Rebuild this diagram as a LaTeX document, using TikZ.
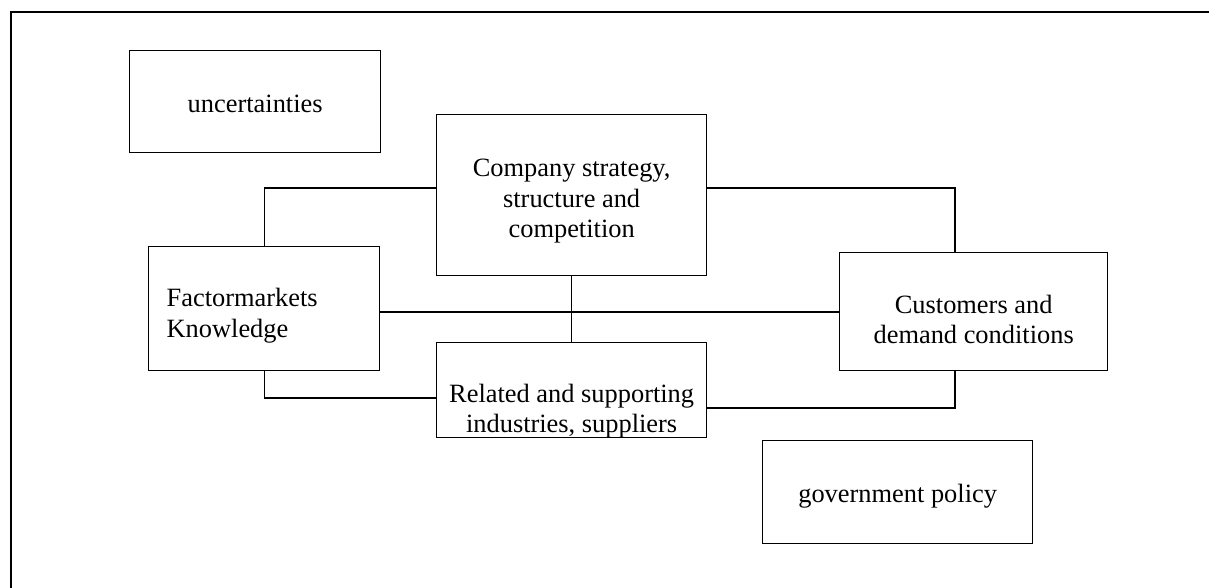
\documentclass[tikz,border=0pt]{standalone}
\usepackage{fontspec}
\setmainfont{Liberation Serif}

\begin{document}
\begin{tikzpicture}[
		x=0.5pt, y=-0.5pt,
		factor/.style={draw, line width=0.65pt, anchor=north west, align=center,
			inner xsep=0pt, inner ysep=0pt,
			font=\fontsize{13.2}{15.25}\selectfont},
		link/.style={line width=0.6pt}
		]
		\useasboundingbox (0,0) rectangle (1209,588);
		\draw[line width=1pt] (11,588) -- (11,12) -- (1209,12);

		\node[factor, minimum width=125.5pt, text height=31pt, text depth=20pt] (uncert) at (129,50) {uncertainties};
		\node[factor, minimum width=135pt, text height=61.5pt, text depth=19pt] (company) at (436,114) {Company strategy,\\structure and\\competition};
		\node[factor, minimum width=115.5pt, text width=97.5pt, inner xsep=9pt, align=left, text height=30pt, text depth=32pt] (markets) at (148,246) {Factormarkets\\Knowledge};
		\node[factor, minimum width=134pt, text height=45.5pt, text depth=13.5pt] (customers) at (839,252) {Customers and\\demand conditions};
		\node[factor, minimum width=135pt, text height=45pt, text depth=2.5pt] (related) at (436,342) {Related and supporting\\industries, suppliers};
		\node[factor, minimum width=135pt, text height=31pt, text depth=20.5pt] (government) at (762,440) {government policy};

		\draw[link] (markets.north) |- (company.west |- 0,188);
		\draw[link] (company.east |- 0,188) -| (customers.north -| 955,0);
		\draw[link] (markets.east |- 0,312) -- (customers.west |- 0,312);
		\draw[link] (company.south) -- (related.north);
		\draw[link] (markets.south) |- (related.west |- 0,398);
		\draw[link] (related.east |- 0,408) -| (customers.south -| 955,0);
	\end{tikzpicture}
\end{document}
